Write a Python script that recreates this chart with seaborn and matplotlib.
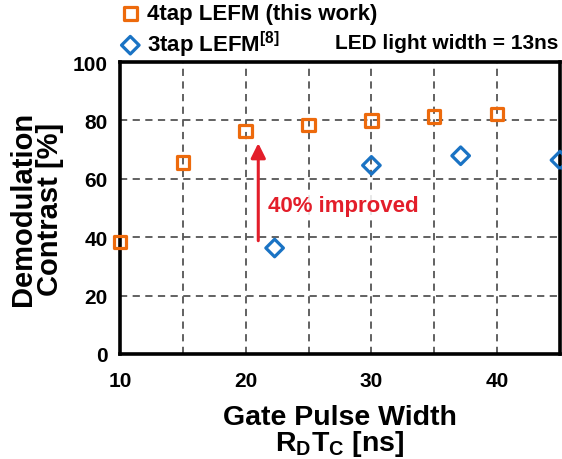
import matplotlib
matplotlib.use("Agg")
import matplotlib.pyplot as plt
import seaborn as sns

sns.set_theme(style="white")
plt.rcParams['font.family'] = ['Liberation Sans', 'DejaVu Sans']
plt.rcParams['font.weight'] = 'bold'
plt.rcParams['text.color'] = 'black'
plt.rcParams['axes.labelcolor'] = 'black'
plt.rcParams['xtick.color'] = 'black'
plt.rcParams['ytick.color'] = 'black'

# data
x_4tap = [10, 15, 20, 25, 30, 35, 40]
y_4tap = [38.3, 65.6, 76.3, 78.4, 79.9, 81.3, 82.2]
x_3tap = [22.3, 30, 37.1, 45]
y_3tap = [36.3, 64.6, 67.9, 66.4]
x_ticks = [10, 20, 30, 40]
y_ticks = [0, 20, 40, 60, 80, 100]

orange = "#ED6A0C"
blue = "#1A73C4"
red = "#E31E2A"

fig = plt.figure(figsize=(5.62, 4.6), dpi=100)
ax = fig.add_axes([0.2135, 0.2283, 0.7829, 0.6347])

sns.scatterplot(x=x_4tap, y=y_4tap, marker='s', s=80, facecolor='none',
                edgecolor=orange, linewidth=2.3, ax=ax, label="4tap LEFM (this work)",
                zorder=3, clip_on=False)
sns.scatterplot(x=x_3tap, y=y_3tap, marker='D', s=80, facecolor='none',
                edgecolor=blue, linewidth=2.3, ax=ax,
                label=r"3tap LEFM$^{\mathregular{[8]}}$", zorder=3, clip_on=False)

ax.set_xlim(10, 45)
ax.set_ylim(0, 100)
ax.set_xticks(x_ticks)
ax.set_yticks(y_ticks)
ax.set_xticks([15, 25, 35], minor=True)
ax.grid(True, which='both', linestyle=(0, (4, 3)), color='#555555', linewidth=1.3)
ax.set_axisbelow(True)
ax.tick_params(axis='both', which='both', length=0, labelsize=15)
ax.tick_params(axis='x', pad=12)
ax.tick_params(axis='y', pad=9)
for lab in ax.get_xticklabels() + ax.get_yticklabels():
    lab.set_fontweight('bold')
for sp in ax.spines.values():
    sp.set_color('black')
    sp.set_linewidth(2.6)

ax.set_xlabel("Gate Pulse Width\n" + r"R$_\mathregular{D}$T$_\mathregular{C}$ [ns]",
              fontsize=20.5, fontweight='bold', linespacing=0.95, labelpad=10)
ax.set_ylabel("Demodulation\nContrast [%]", fontsize=21, fontweight='bold',
              linespacing=0.95, labelpad=6)

# improvement arrow
ax.annotate("", xy=(21.0, 72.2), xytext=(21.0, 38.8),
            arrowprops=dict(arrowstyle='-|>', color=red, lw=2.2,
                            mutation_scale=22, shrinkA=0, shrinkB=0))
ax.text(21.75, 51, "40% improved", color=red, fontsize=16, fontweight='bold',
        va='center', ha='left',
        bbox=dict(facecolor='white', edgecolor='none', alpha=0.85, pad=2))

leg = ax.legend(loc='upper left', bbox_to_anchor=(-0.022, 1.232), frameon=False,
                fontsize=16, handletextpad=0.25, labelspacing=0.2,
                borderaxespad=0, handlelength=1.0, markerscale=1.0)
for t in leg.get_texts():
    t.set_fontweight('bold')
fig.text(0.596, 0.906, "LED light width = 13ns", fontsize=15, fontweight='bold',
         ha='left', va='center')

fig.savefig("out.png", dpi=100)
